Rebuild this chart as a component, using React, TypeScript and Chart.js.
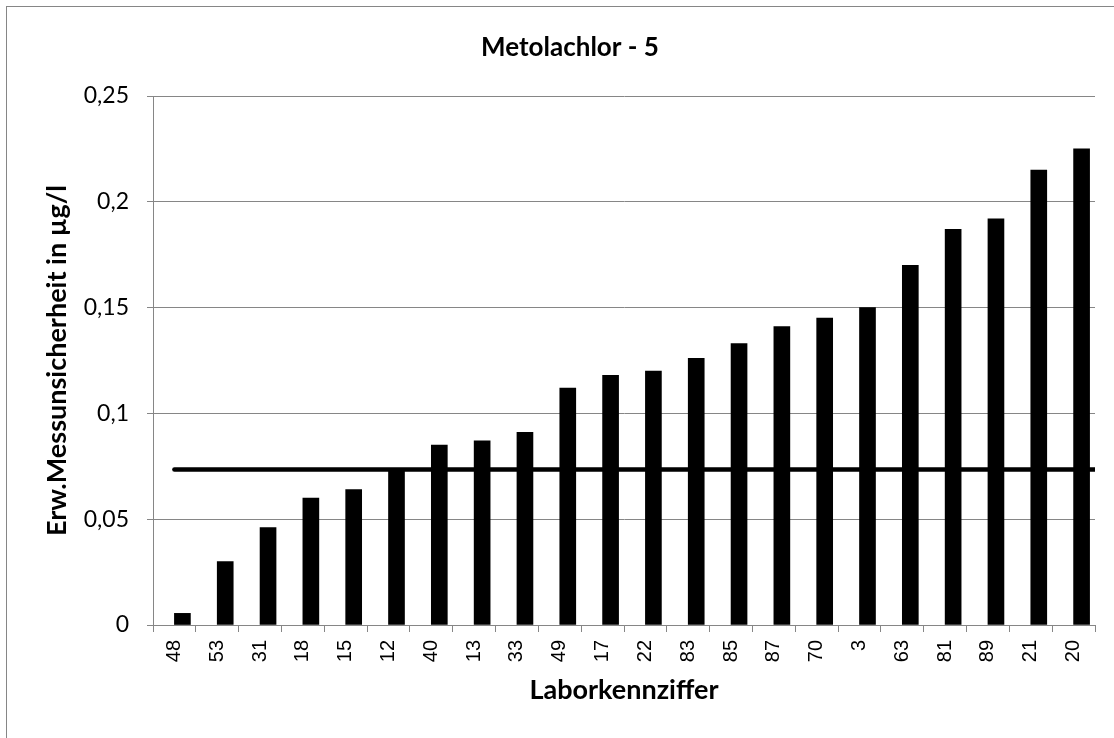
import React, { useEffect, useRef } from 'react';
import { Chart, registerables } from 'chart.js';

Chart.register(...registerables);

// Data
const categories = ['48', '53', '31', '18', '15', '12', '40', '13', '33', '49', '17', '22', '83', '85', '87', '70', '3', '63', '81', '89', '21', '20'];
const values = [0.0055, 0.030, 0.046, 0.060, 0.064, 0.074, 0.085, 0.087, 0.091, 0.112, 0.118, 0.120, 0.126, 0.133, 0.141, 0.145, 0.150, 0.170, 0.187, 0.192, 0.215, 0.225];
const referenceValue = 0.0735;
const yMin = 0;
const yMax = 0.25;
const yStep = 0.05;

const chartTitle = 'Metolachlor - 5';
const xAxisTitle = 'Laborkennziffer';
const yAxisTitle = 'Erw.Messunsicherheit in µg/l';

const GRID = '#868686';

export default function App() {
  const canvasRef = useRef<HTMLCanvasElement | null>(null);

  useEffect(() => {
    const canvas = canvasRef.current;
    if (!canvas) return;

    const framePlugin = {
      id: 'frame',
      beforeDraw(chart: any) {
        const ctx = chart.ctx;
        ctx.save();
        ctx.fillStyle = '#ffffff';
        ctx.fillRect(0, 0, chart.width, chart.height);
        ctx.strokeStyle = GRID;
        ctx.lineWidth = 1;
        ctx.strokeRect(6.5, 6.5, 2000, 2000);
        ctx.restore();
      },
    };

    const titlePlugin = {
      id: 'mainTitle',
      afterDraw(chart: any) {
        const ctx = chart.ctx;
        ctx.save();
        ctx.fillStyle = '#000000';
        ctx.font = 'bold 26px Lato';
        ctx.textAlign = 'center';
        ctx.textBaseline = 'alphabetic';
        ctx.fillText(chartTitle, 570, 56);
        ctx.restore();
      },
    };

    const chart = new Chart(canvas, {
      type: 'bar',
      data: {
        labels: categories,
        datasets: [
          {
            type: 'line',
            label: 'Mittelwert',
            data: [
              { x: 0.5, y: referenceValue },
              { x: categories.length, y: referenceValue },
            ],
            xAxisID: 'xLine',
            yAxisID: 'y',
            borderColor: '#000000',
            borderWidth: 4.5,
            borderCapStyle: 'round',
            pointRadius: 0,
            fill: false,
            order: 0,
          } as any,
          {
            type: 'bar',
            label: 'Messunsicherheit',
            data: values,
            xAxisID: 'x',
            yAxisID: 'y',
            backgroundColor: '#000000',
            borderWidth: 0,
            barThickness: 16,
            order: 1,
          },
        ],
      },
      options: {
        responsive: false,
        animation: false,
        layout: { padding: { left: 0, right: 19, top: 96, bottom: 0 } },
        plugins: {
          legend: { display: false },
          tooltip: { enabled: false },
          title: { display: false },
        },
        scales: {
          x: {
            type: 'category',
            offset: true,
            grid: {
              offset: true,
              drawOnChartArea: false,
              drawTicks: true,
              tickLength: 7,
              color: GRID,
              lineWidth: 1,
            },
            border: { color: GRID, width: 1 },
            ticks: {
              autoSkip: false,
              minRotation: 90,
              maxRotation: 90,
              padding: 8,
              color: '#000000',
              font: { family: '"Liberation Sans", Arial, sans-serif', size: 20 },
            },
            title: {
              display: true,
              text: xAxisTitle,
              color: '#000000',
              font: { family: 'Lato', size: 27, weight: 'bold' },
              padding: { top: 0, bottom: 32 },
            },
            afterFit(scale: any) {
              scale.height = 113;
            },
          },
          y: {
            type: 'linear',
            min: yMin,
            max: yMax,
            ticks: {
              stepSize: yStep,
              padding: 18,
              color: '#000000',
              font: { family: 'Lato', size: 23 },
              callback: (v: any) => Number(Number(v).toFixed(2)).toString().replace('.', ','),
            },
            grid: { color: GRID, lineWidth: 1, tickLength: 6 },
            border: { color: GRID, width: 1 },
            title: {
              display: true,
              text: yAxisTitle,
              color: '#000000',
              font: { family: 'Lato', size: 27, weight: 'bold' },
              padding: { top: 41, bottom: 0 },
            },
            afterFit(scale: any) {
              scale.width = 153;
            },
          },
          xLine: {
            type: 'linear',
            display: false,
            offset: false,
            grid: { offset: false },
            min: 0,
            max: categories.length,
          },
        },
      } as any,
      plugins: [framePlugin, titlePlugin],
    });

    return () => {
      chart.destroy();
    };
  }, []);

  return (
    <div style={{ position: 'absolute', left: 0, top: 0, width: 1114, height: 738 }}>
      <canvas ref={canvasRef} width={1114} height={738} />
    </div>
  );
}
